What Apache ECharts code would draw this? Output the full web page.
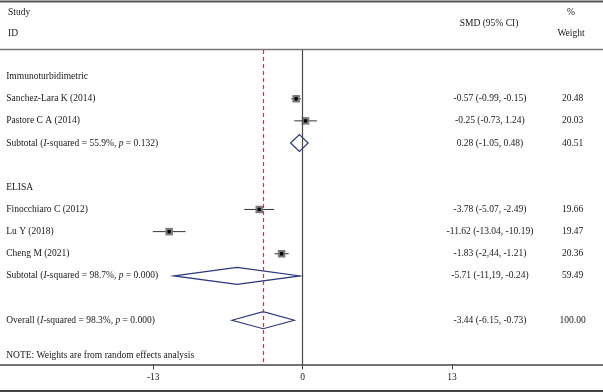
<!DOCTYPE html>
<html>
<head>
<meta charset="utf-8">
<script src="https://cdn.jsdelivr.net/npm/echarts@6/dist/echarts.min.js"></script>
<style>
  html, body { margin: 0; padding: 0; background: #fff; }
  #forest-chart { width: 603px; height: 392px; }
</style>
</head>
<body>
<div id="forest-chart"></div>
<script>
// left column, one entry per row (empty strings are spacer rows)
var rowLabels = [
  'Immunoturbidimetric',
  'Sanchez-Lara K (2014)',
  'Pastore C A (2014)',
  'Subtotal ({i|I}-squared = 55.9%, {i|p} = 0.132)',
  '',
  'ELISA',
  'Finocchiaro C (2012)',
  'Lu Y (2018)',
  'Cheng M (2021)',
  'Subtotal ({i|I}-squared = 98.7%, {i|p} = 0.000)',
  '',
  'Overall ({i|I}-squared = 98.3%, {i|p} = 0.000)'
];
var noteText = 'NOTE: Weights are from random effects analysis';

// individual studies
var studyRows = [1, 2, 6, 7, 8];
var studySmd = [-0.57, 0.25, -3.78, -11.62, -1.83];
var studyLower = [-0.99, -0.73, -5.07, -13.04, -2.44];
var studyUpper = [-0.15, 1.24, -2.49, -10.19, -1.21];

// pooled estimates (two subtotals + overall)
var pooledRows = [3, 9, 11];
var pooledSmd = [-0.28, -5.71, -3.44];
var pooledLower = [-1.05, -11.19, -6.15];
var pooledUpper = [0.48, -0.24, -0.73];

// right-hand text columns
var ciRows = [1, 2, 3, 6, 7, 8, 9, 11];
var ciText = [
  '-0.57 (-0.99, -0.15)',
  '-0.25 (-0.73, 1.24)',
  '0.28 (-1.05, 0.48)',
  '-3.78 (-5.07, -2.49)',
  '-11.62 (-13.04, -10.19)',
  '-1.83 (-2,44, -1.21)',
  '-5.71 (-11,19, -0.24)',
  '-3.44 (-6.15, -0.73)'
];
var weightText = ['20.48', '20.03', '40.51', '19.66', '19.47', '20.36', '59.49', '100.00'];

var xTicks = [-13, 0, 13];
var overallSmd = pooledSmd[2];

var fontFamily = '"Liberation Serif", "DejaVu Serif", serif';
var textColor = '#1a1718';

var forestChart = echarts.init(document.getElementById('forest-chart'));

var textData = rowLabels.map(function (t, i) { return [-25.8, i, t]; });
textData.push([-25.8, 12.6, noteText]);

var ciData = ciRows.map(function (r, i) { return [16.3, r, ciText[i]]; });
var weightData = ciRows.map(function (r, i) { return [23.5, r, weightText[i]]; });

function makeTextSeries(data, align) {
  return {
    type: 'custom',
    silent: true,
    data: data,
    renderItem: function (params, api) {
      var p = api.coord([api.value(0), api.value(1)]);
      return {
        type: 'text',
        x: p[0],
        y: p[1],
        style: {
          text: data[params.dataIndex][2],
          fill: textColor,
          fontSize: 9.5,
          fontFamily: fontFamily,
          align: align,
          verticalAlign: 'middle',
          rich: {
            i: { fontStyle: 'italic', fontSize: 9.5, fontFamily: fontFamily, fill: textColor }
          }
        }
      };
    }
  };
}

var studyData = studyRows.map(function (r, i) {
  return [studySmd[i], r, studyLower[i], studyUpper[i]];
});
var pooledData = pooledRows.map(function (r, i) {
  return [pooledSmd[i], r, pooledLower[i], pooledUpper[i]];
});

var option = {
  animation: false,
  backgroundColor: '#fff',
  grid: { left: 0, right: 0, top: 50, bottom: 27.5 },
  xAxis: {
    type: 'value',
    min: -26.34,
    max: 26.14,
    axisLine: { show: true, onZero: false, lineStyle: { color: '#444', width: 1.5 } },
    axisTick: { show: true, length: 5, customValues: xTicks, lineStyle: { color: '#444' } },
    axisLabel: {
      customValues: xTicks,
      margin: 8,
      color: textColor,
      fontSize: 9.5,
      fontFamily: fontFamily
    },
    splitLine: { show: false }
  },
  yAxis: {
    type: 'value',
    inverse: true,
    min: -1.2,
    max: 13,
    show: false
  },
  graphic: [
    { type: 'line', shape: { x1: 0, y1: 1.5, x2: 603, y2: 1.5 }, style: { stroke: '#555', lineWidth: 2 } },
    { type: 'line', shape: { x1: 0, y1: 49.5, x2: 603, y2: 49.5 }, style: { stroke: '#777', lineWidth: 1.5 } },
    { type: 'line', shape: { x1: 0, y1: 391, x2: 603, y2: 391 }, style: { stroke: '#444', lineWidth: 2 } },
    { type: 'text', x: 8, y: 12, style: { text: 'Study', fill: textColor, fontSize: 9.5, fontFamily: fontFamily, verticalAlign: 'middle' } },
    { type: 'text', x: 8, y: 33, style: { text: 'ID', fill: textColor, fontSize: 9.5, fontFamily: fontFamily, verticalAlign: 'middle' } },
    { type: 'text', x: 489, y: 23, style: { text: 'SMD (95% CI)', fill: textColor, fontSize: 9.5, fontFamily: fontFamily, align: 'center', verticalAlign: 'middle' } },
    { type: 'text', x: 571, y: 12, style: { text: '%', fill: textColor, fontSize: 9.5, fontFamily: fontFamily, align: 'center', verticalAlign: 'middle' } },
    { type: 'text', x: 571, y: 33, style: { text: 'Weight', fill: textColor, fontSize: 9.5, fontFamily: fontFamily, align: 'center', verticalAlign: 'middle' } }
  ],
  series: [
    {
      name: 'pooled',
      type: 'custom',
      silent: true,
      data: pooledData,
      renderItem: function (params, api) {
        var c = api.coord([api.value(0), api.value(1)]);
        var l = api.coord([api.value(2), api.value(1)]);
        var r = api.coord([api.value(3), api.value(1)]);
        return {
          type: 'polygon',
          shape: { points: [l, [c[0], c[1] - 8.5], r, [c[0], c[1] + 8.5]] },
          style: { fill: 'none', stroke: '#2b3784', lineWidth: 1.2 }
        };
      },
      markLine: {
        silent: true,
        symbol: 'none',
        label: { show: false },
        data: [
          { xAxis: 0, lineStyle: { color: '#4a4a4a', width: 1.2, type: 'solid' } },
          { xAxis: overallSmd, lineStyle: { color: '#b2404e', width: 1.2, type: [4, 3] } }
        ]
      }
    },
    {
      name: 'studies',
      type: 'custom',
      silent: true,
      data: studyData,
      renderItem: function (params, api) {
        var c = api.coord([api.value(0), api.value(1)]);
        var l = api.coord([api.value(2), api.value(1)]);
        var r = api.coord([api.value(3), api.value(1)]);
        var s = 7.5;
        return {
          type: 'group',
          children: [
            { type: 'line', shape: { x1: l[0], y1: l[1], x2: r[0], y2: r[1] }, style: { stroke: '#333', lineWidth: 1 } },
            { type: 'rect', shape: { x: c[0] - s / 2, y: c[1] - s / 2, width: s, height: s }, style: { fill: '#7a7a7a' } },
            { type: 'circle', shape: { cx: c[0], cy: c[1], r: 1.9 }, style: { fill: '#000' } }
          ]
        };
      }
    },
    makeTextSeries(textData, 'left'),
    makeTextSeries(ciData, 'center'),
    makeTextSeries(weightData, 'center')
  ]
};

forestChart.setOption(option);
</script>
</body>
</html>
